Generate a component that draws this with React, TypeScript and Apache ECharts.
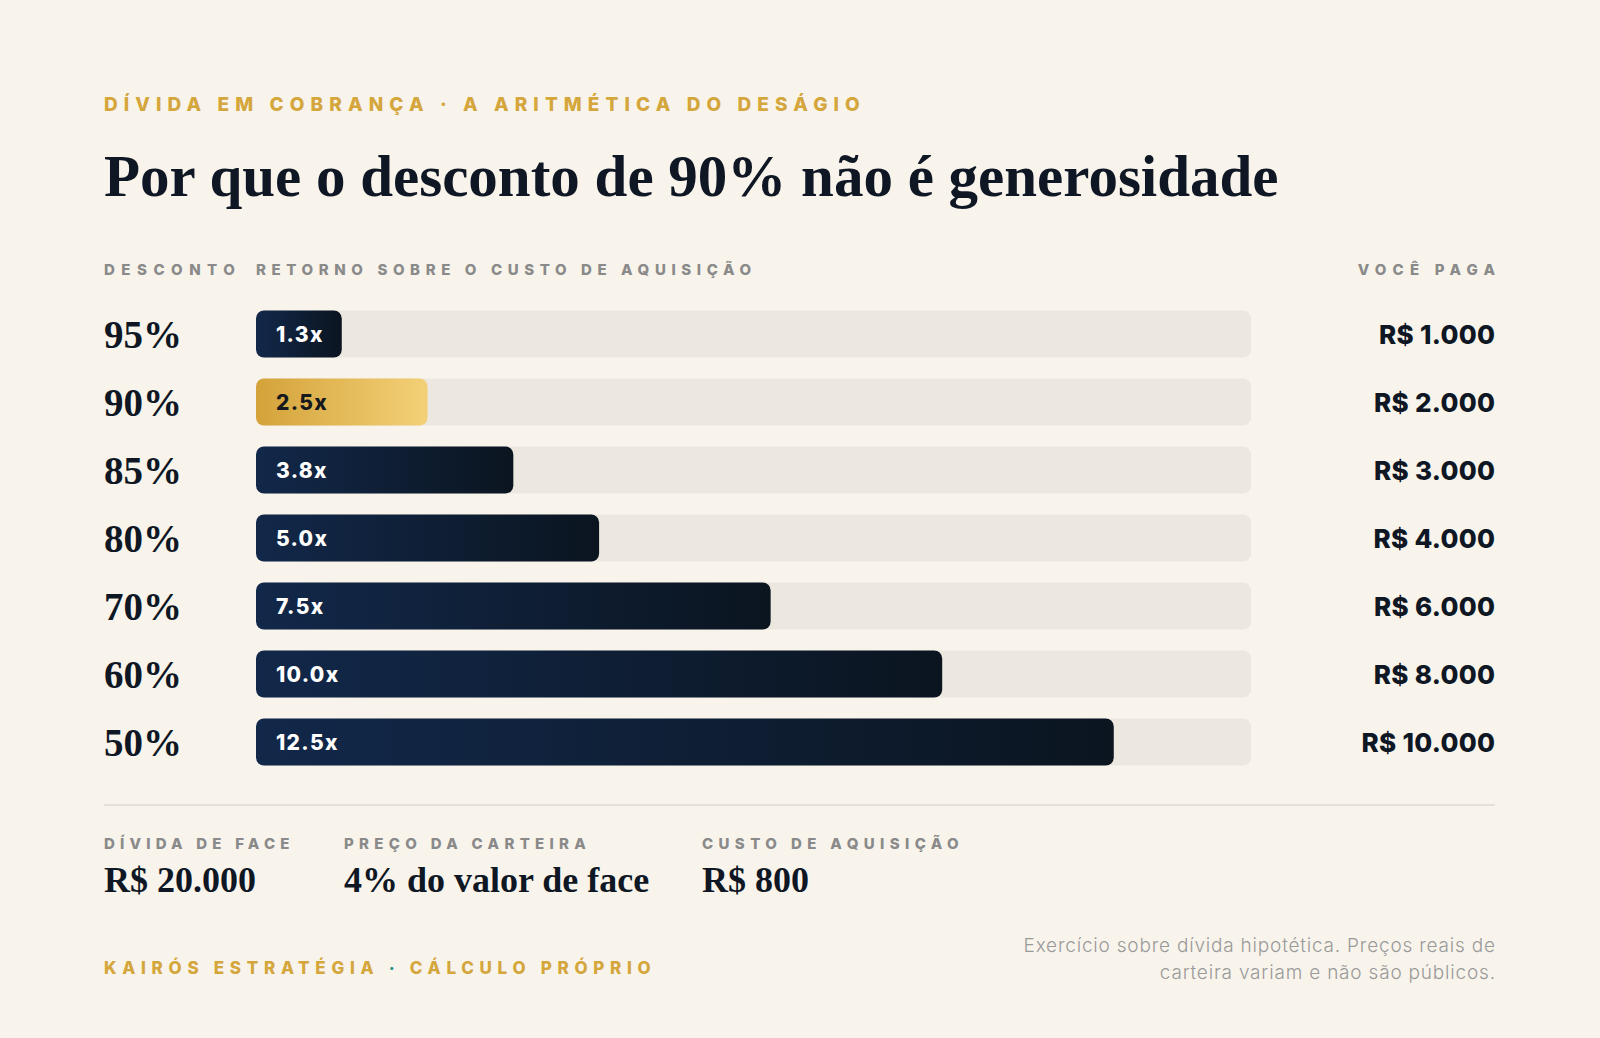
import React, { useEffect, useRef } from "react";
import * as echarts from "echarts";

// ---------- data ----------
const CATEGORIES = ["95%", "90%", "85%", "80%", "70%", "60%", "50%"];
const RETURNS = [1.25, 2.5, 3.75, 5, 7.5, 10, 12.5];
const RETURN_LABELS = ["1.3x", "2.5x", "3.8x", "5.0x", "7.5x", "10.0x", "12.5x"];
const PAYMENTS = ["R$ 1.000", "R$ 2.000", "R$ 3.000", "R$ 4.000", "R$ 6.000", "R$ 8.000", "R$ 10.000"];
const HIGHLIGHT = "90%";
const X_MAX = 14.5;

const EYEBROW = "DÍVIDA EM COBRANÇA · A ARITMÉTICA DO DESÁGIO";
const TITLE = "Por que o desconto de 90% não é generosidade";
const COL_HEADERS = ["DESCONTO", "RETORNO SOBRE O CUSTO DE AQUISIÇÃO", "VOCÊ PAGA"];
const STAT_LABELS = ["DÍVIDA DE FACE", "PREÇO DA CARTEIRA", "CUSTO DE AQUISIÇÃO"];
const STAT_VALUES = ["R$ 20.000", "4% do valor de face", "R$ 800"];
const FOOTER_PARTS = ["KAIRÓS ESTRATÉGIA", "CÁLCULO PRÓPRIO"];
const FOOTER = FOOTER_PARTS.join(" · ");
const NOTE_LINES = ["Exercício sobre dívida hipotética. Preços reais de", "carteira variam e não são públicos."];

// ---------- style ----------
const BG = "#F8F4EC";
const TRACK = "#ECE8E0";
const GOLD = "#D4A63C";
const TEAL = "#2A8F7E";
const GRAY = "#8A8A8A";
const INK = "#0F1724";
const SANS = "Inter, 'Open Sans', sans-serif";
const SERIF = "'Liberation Serif', serif";

const SPACING: Record<string, number> = {
  [EYEBROW]: 6.1,
  [FOOTER]: 5.7,
  [COL_HEADERS[0]]: 6.5,
  [COL_HEADERS[1]]: 5.6,
  [COL_HEADERS[2]]: 6.2,
  [STAT_LABELS[0]]: 5.2,
  [STAT_LABELS[1]]: 5.3,
  [STAT_LABELS[2]]: 5.4,
  [NOTE_LINES[0]]: 0.8,
  [NOTE_LINES[1]]: 0.8,
};
RETURN_LABELS.forEach((l) => (SPACING[l] = 1.3));
PAYMENTS.forEach((l) => (SPACING[l] = 0.3));

function applySpacing(root: HTMLElement) {
  root.querySelectorAll("text").forEach((t) => {
    const txt = t.textContent || "";
    const s = SPACING[txt];
    if (s != null) t.setAttribute("letter-spacing", String(s));
    if (txt === FOOTER && !t.querySelector("tspan")) {
      const ns = "http://www.w3.org/2000/svg";
      t.textContent = "";
      t.appendChild(document.createTextNode(FOOTER_PARTS[0] + " "));
      const dot = document.createElementNS(ns, "tspan");
      dot.setAttribute("fill", TEAL);
      dot.textContent = "·";
      t.appendChild(dot);
      t.appendChild(document.createTextNode(" " + FOOTER_PARTS[1]));
    }
  });
}

const darkGrad = () =>
  new echarts.graphic.LinearGradient(0, 0, 1, 0, [
    { offset: 0, color: "#12284A" },
    { offset: 1, color: "#0B1520" },
  ]);
const goldGrad = () =>
  new echarts.graphic.LinearGradient(0, 0, 1, 0, [
    { offset: 0, color: "#D4A33A" },
    { offset: 1, color: "#F3D077" },
  ]);

export default function App() {
  const ref = useRef<HTMLDivElement>(null);

  useEffect(() => {
    document.body.style.margin = "0";
    document.body.style.background = BG;
    if (!ref.current) return;
    const chart = echarts.init(ref.current, undefined, { renderer: "svg" });

    const statX = [104, 344, 702];
    const capsStyle = { fontFamily: SANS, fontWeight: 800, fontSize: 15, fill: GRAY, verticalAlign: "middle" };

    const option: any = {
      animation: false,
      backgroundColor: BG,
      grid: { left: 256, top: 300, width: 995, height: 476, containLabel: false },
      xAxis: { type: "value", min: 0, max: X_MAX, show: false },
      yAxis: [
        {
          type: "category",
          data: CATEGORIES,
          inverse: true,
          axisLine: { show: false },
          axisTick: { show: false },
          splitLine: { show: false },
          axisLabel: {
            align: "left",
            margin: 152,
            verticalAlign: "middle",
            fontFamily: SERIF,
            fontWeight: 700,
            fontSize: 39,
            color: INK,
            padding: [4, 0, 0, 0],
          },
        },
        {
          type: "category",
          data: PAYMENTS,
          inverse: true,
          position: "right",
          axisLine: { show: false },
          axisTick: { show: false },
          splitLine: { show: false },
          axisLabel: {
            align: "right",
            margin: 244.3,
            verticalAlign: "middle",
            fontFamily: SANS,
            fontWeight: 800,
            fontSize: 26,
            color: INK,
          },
        },
      ],
      series: [
        {
          type: "bar",
          yAxisIndex: 0,
          barWidth: 47,
          silent: true,
          showBackground: true,
          backgroundStyle: { color: TRACK, borderRadius: 8 },
          data: RETURNS.map((v, i) => {
            const hi = CATEGORIES[i] === HIGHLIGHT;
            return {
              value: v,
              itemStyle: { color: hi ? goldGrad() : darkGrad(), borderRadius: 8 },
              label: { color: hi ? "#15181C" : "#FFFFFF" },
            };
          }),
          label: {
            show: true,
            position: "insideLeft",
            distance: 20,
            fontFamily: SANS,
            fontWeight: 800,
            fontSize: 21,
            formatter: (p: any) => RETURN_LABELS[p.dataIndex],
          },
        },
      ],
      graphic: [
        {
          type: "text",
          x: 104,
          y: 104,
          style: { text: EYEBROW, fontFamily: SANS, fontWeight: 800, fontSize: 19, fill: GOLD, verticalAlign: "middle" },
        },
        {
          type: "text",
          x: 104,
          y: 176,
          style: {
            text: TITLE,
            fontFamily: SERIF,
            fontWeight: 700,
            fontSize: 59,
            fill: INK,
            verticalAlign: "middle",
          },
        },
        { type: "text", x: 104, y: 269, style: { text: COL_HEADERS[0], ...capsStyle } },
        { type: "text", x: 256, y: 269, style: { text: COL_HEADERS[1], ...capsStyle } },
        {
          type: "text",
          x: 1495 + 6.2,
          y: 269,
          style: { text: COL_HEADERS[2], ...capsStyle, align: "right" },
        },
        {
          type: "line",
          shape: { x1: 104, y1: 805, x2: 1495, y2: 805 },
          style: { stroke: "#DEDAD2", lineWidth: 1.5 },
        },
        ...STAT_LABELS.map((t, i) => ({
          type: "text",
          x: statX[i],
          y: 843,
          style: { text: t, ...capsStyle },
        })),
        ...STAT_VALUES.map((t, i) => ({
          type: "text",
          x: statX[i],
          y: 880,
          style: { text: t, fontFamily: SERIF, fontWeight: 700, fontSize: 36, fill: INK, verticalAlign: "middle" },
        })),
        {
          type: "text",
          x: 104,
          y: 968,
          style: { text: FOOTER, fontFamily: SANS, fontWeight: 800, fontSize: 17, fill: GOLD, verticalAlign: "middle" },
        },
        ...NOTE_LINES.map((t, i) => ({
          type: "text",
          x: 1495 + 0.8,
          y: 945 + i * 27.5,
          style: {
            text: t,
            fontFamily: SANS,
            fontWeight: 300,
            fontSize: 19,
            fill: "#9A9A9A",
            align: "right",
            verticalAlign: "middle",
          },
        })),
      ],
    };

    chart.setOption(option);
    applySpacing(ref.current);
    const el = ref.current;
    chart.on("finished", () => applySpacing(el));
    return () => chart.dispose();
  }, []);

  return (
    <div
      ref={ref}
      style={{ position: "fixed", left: 0, top: 0, width: 1600, height: 1038, background: BG }}
    />
  );
}
